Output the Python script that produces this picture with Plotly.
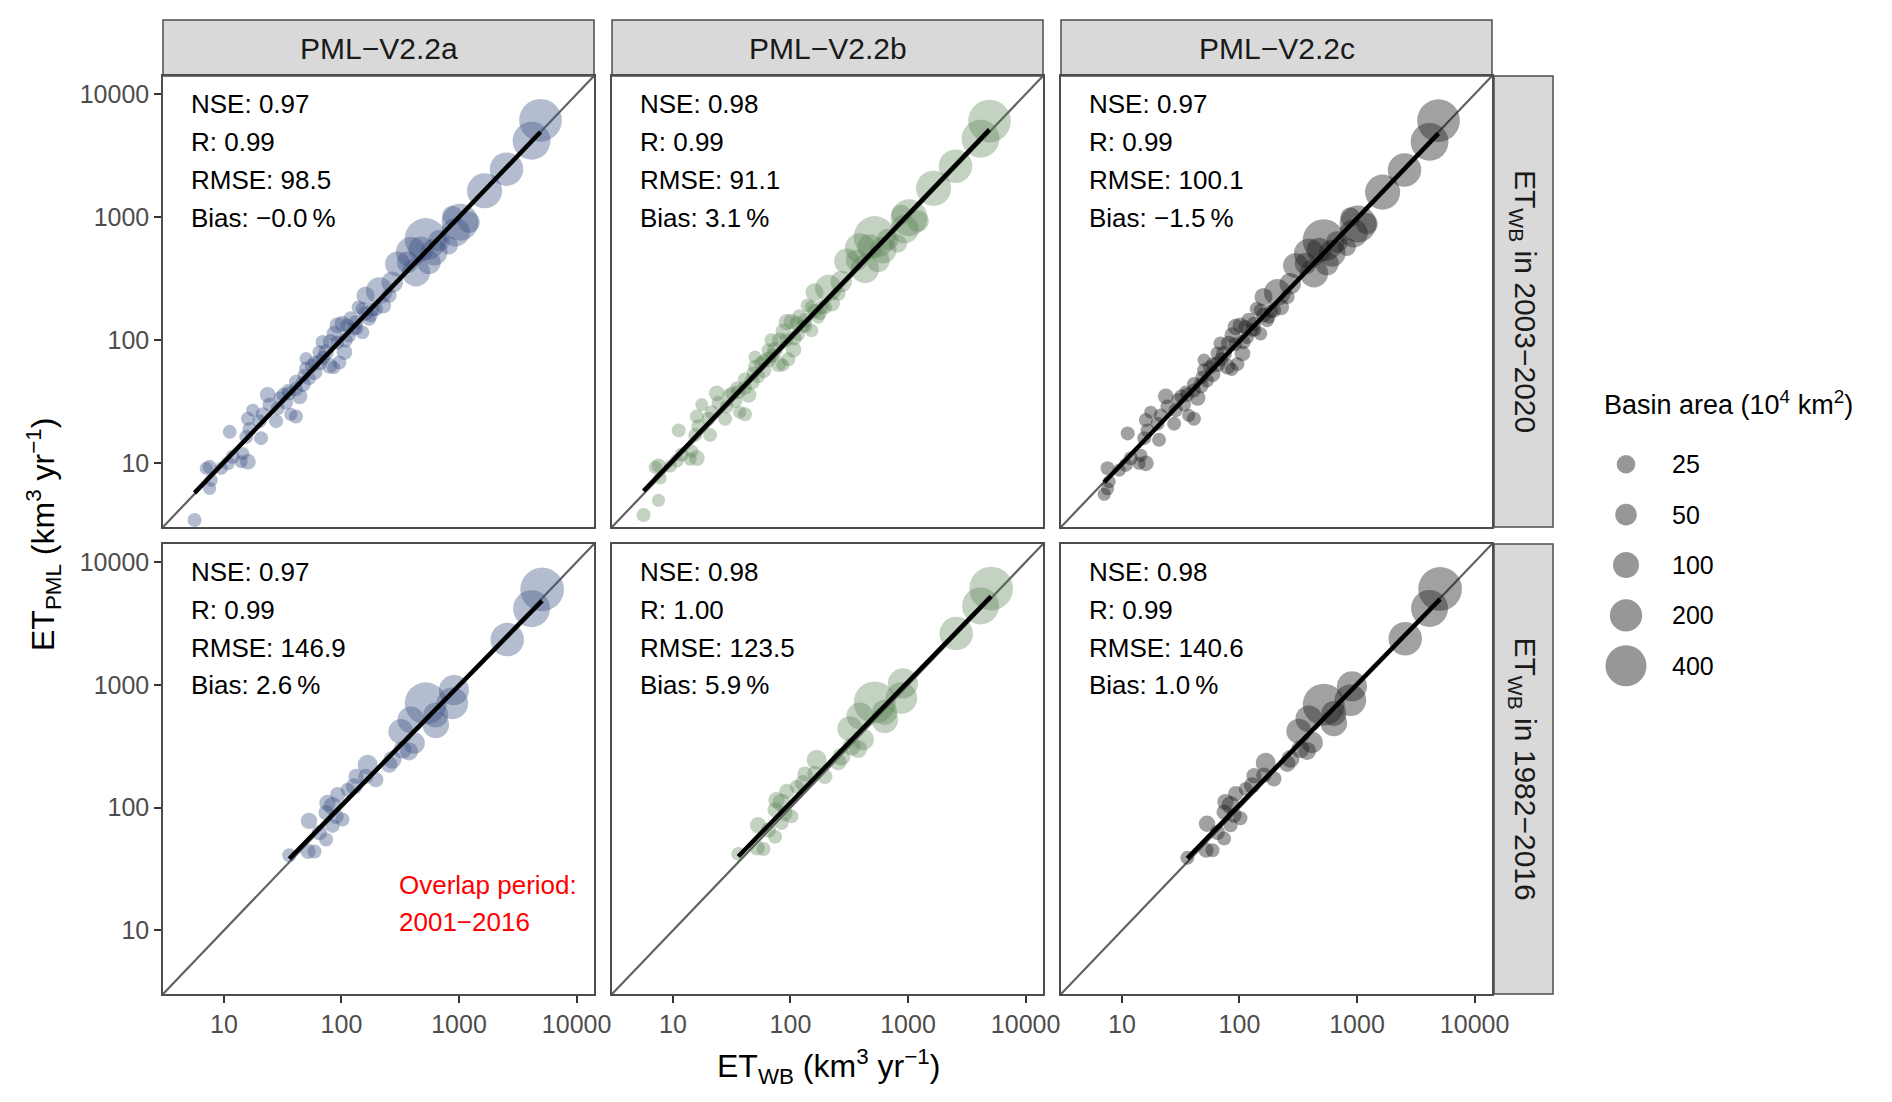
import numpy as np
import plotly.graph_objects as go
from plotly.subplots import make_subplots

# ---- data ----
models = ["PML\u2212V2.2a", "PML\u2212V2.2b", "PML\u2212V2.2c"]
periods = ["ET<sub>WB</sub> in 2003\u22122020", "ET<sub>WB</sub> in 1982\u22122016"]

# 2003-2020: water-balance ET (km3/yr), basin area (10^4 km2), PML ET per model
et_wb_1 = [4930, 4140, 2535, 1650, 1020, 935, 520, 390, 615, 430, 300, 210, 270, 365, 675, 820,
           225, 178, 255, 160, 475, 555, 1215, 875, 93, 102, 87, 81, 116, 128, 106, 74, 65, 79,
           96, 59, 53, 47, 41, 36, 32, 44, 41, 37, 23.6, 24.4, 28.7, 33.8, 27.8, 21.4, 17.6, 20.1,
           16.0, 16.5, 20.7, 11.2, 15.5, 14.5, 16.0, 14.0, 11.9, 10.8, 9.5, 7.55, 7.08, 7.8, 7.55,
           5.63, 151, 172, 196, 133, 151, 65, 59, 50, 69, 50,
           140, 160, 185, 120, 112, 135, 108, 92, 70, 86, 56, 48, 41, 35, 30]
area_1 = [447, 322, 225, 259, 298, 134, 427, 162, 109, 134, 87, 109, 49, 49, 49, 23, 13, 3, 6, 22,
          87, 70, 49, 35, 13, 10, 10, 10, 4, 3, 10, 10, 10, 10, 4, 10, 4, 10, 4, 4, 4, 10, 4, 2,
          10, 4, 4, 4, 4, 4, 2, 4, 4, 4, 4, 4, 4, 2, 10, 2, 4, 4, 2, 4, 2, 2, 2, 4, 3, 3, 6, 6,
          3, 4, 2, 4, 4, 2,
          4, 6, 4, 6, 4, 2, 6, 4, 4, 2, 4, 2, 4, 2, 2]
pml_a_1 = [6140, 4180, 2460, 1640, 910, 755, 665, 520, 520, 357, 417, 253, 296, 430, 645, 590,
           192, 159, 231, 231, 552, 430, 910, 1030, 132, 136, 113, 97, 109, 124, 80, 80, 66, 62,
           66, 55, 49, 44, 40, 37, 36, 35, 24, 25, 36, 30, 28, 31, 22, 25, 27, 22, 23, 19, 16,
           18, 16.4, 12, 10.3, 10.3, 11.3, 10, 9.1, 9.35, 9.1, 7.3, 6.25, 3.46, 180, 149, 180,
           140, 116, 80, 66, 59, 97, 71,
           185, 165, 178, 150, 132, 125, 100, 96, 72, 60, 62, 52, 46, 39, 34]
pml_b_1 = [6050, 4350, 2600, 1720, 990, 800, 690, 560, 540, 380, 440, 265, 300, 445, 660, 610,
           200, 165, 240, 245, 575, 445, 930, 1050, 140, 142, 118, 100, 112, 130, 84, 84, 70, 64,
           70, 57, 51, 46, 41, 38, 37, 36, 25, 26, 37, 31, 29, 32, 23, 26, 30, 23, 24, 20, 17,
           18.5, 17, 12.5, 11, 10.8, 11.8, 10.5, 9.5, 9.6, 9.3, 7.6, 5.0, 3.8, 186, 155, 186,
           145, 120, 83, 68, 61, 100, 73,
           192, 172, 186, 156, 138, 130, 104, 100, 75, 63, 65, 54, 48, 41, 36]
pml_c_1 = [6100, 4100, 2420, 1600, 880, 740, 650, 505, 510, 350, 405, 245, 288, 420, 630, 575,
           186, 155, 225, 225, 540, 420, 885, 1000, 128, 132, 110, 94, 106, 121, 78, 78, 64, 61,
           64, 53, 47, 43, 39, 36, 35, 34, 23, 24.5, 35, 29, 27, 30, 21, 24.5, 26, 21, 22.5, 18.5,
           15.5, 17.5, 16, 11.6, 10, 10, 11, 9.7, 8.8, 9.1, 5.6, 7.1, 6.2, None, 175, 145, 175,
           136, 113, 78, 64, 57, 94, 69,
           180, 160, 172, 146, 128, 121, 97, 93, 70, 58, 60, 50, 44, 38, 33]

# 1982-2016
et_wb_2 = [5090, 4140, 2570, 905, 877, 521, 634, 634, 389, 320, 415, 376, 330, 271, 255, 167,
           196, 161, 133, 128, 113, 93, 84, 76, 74, 90, 102, 53, 65, 74, 52, 59, 36, 84]
area_2 = [476, 300, 225, 162, 190, 427, 87, 109, 109, 87, 49, 22, 22, 22, 13, 35, 8, 8, 8, 13,
          4, 8, 22, 13, 8, 8, 4, 13, 8, 4, 8, 4, 4, 4]
pml_a_2 = [6000, 4180, 2340, 908, 708, 708, 570, 473, 519, 417, 336, 287, 296, 246, 224, 224,
           169, 180, 180, 149, 140, 128, 103, 109, 91, 85, 80, 78, 62.5, 55, 44, 44, 41, 71]
pml_b_2 = [6100, 4400, 2620, 1030, 780, 720, 600, 520, 560, 440, 360, 300, 315, 260, 235, 246,
           180, 190, 188, 158, 148, 136, 110, 115, 96, 90, 85, 72, 66, 58, 47, 46, 42, 75]
pml_c_2 = [6050, 4200, 2380, 975, 750, 690, 585, 490, 530, 420, 340, 290, 300, 250, 228, 232,
           172, 184, 182, 152, 142, 130, 105, 111, 92, 87, 82, 74, 63, 56, 45, 45, 39, 72]

stats = [
    [["NSE: 0.97", "R: 0.99", "RMSE: 98.5", "Bias: \u22120.0\u2009%"],
     ["NSE: 0.98", "R: 0.99", "RMSE: 91.1", "Bias: 3.1\u2009%"],
     ["NSE: 0.97", "R: 0.99", "RMSE: 100.1", "Bias: \u22121.5\u2009%"]],
    [["NSE: 0.97", "R: 0.99", "RMSE: 146.9", "Bias: 2.6\u2009%"],
     ["NSE: 0.98", "R: 1.00", "RMSE: 123.5", "Bias: 5.9\u2009%"],
     ["NSE: 0.98", "R: 0.99", "RMSE: 140.6", "Bias: 1.0\u2009%"]],
]

legend_areas = [25, 50, 100, 200, 400]
tick_vals = [10, 100, 1000, 10000]

# ---- styling ----
W, H = 1892, 1102
FONT = "Liberation Sans, Arial, sans-serif"
colors = ["rgba(60,80,130,0.55)", "rgba(85,125,80,0.5)", "rgba(30,30,30,0.6)"]
LOG_RANGE = [0.482, 4.148]

col_px = [(163, 594), (612, 1043), (1061, 1492)]
row_px = [(76, 527), (544, 994)]


def px_x(a, b):
    return [a / W, b / W]


def px_y(top, bottom):
    return [1 - bottom / H, 1 - top / H]


def diam(area):
    # ggplot-style area scale: diameter linear in sqrt(area)
    return 11 + 1.5 * np.sqrt(np.asarray(area, dtype=float))


fig = make_subplots(rows=2, cols=3)

rows_data = [
    (et_wb_1, area_1, [pml_a_1, pml_b_1, pml_c_1]),
    (et_wb_2, area_2, [pml_a_2, pml_b_2, pml_c_2]),
]

annotations = []
shapes = []

for r, (xw, ar, ys) in enumerate(rows_data):
    for c in range(3):
        yv = ys[c]
        idx = [i for i, v in enumerate(yv) if v is not None]
        xs = np.array([xw[i] for i in idx], dtype=float)
        yy = np.array([yv[i] for i in idx], dtype=float)
        aa = [ar[i] for i in idx]

        # 1:1 line
        lo, hi = 10 ** LOG_RANGE[0], 10 ** LOG_RANGE[1]
        fig.add_trace(go.Scatter(x=[lo, hi], y=[lo, hi], mode="lines",
                                 line=dict(color="#606060", width=2.2),
                                 showlegend=False, hoverinfo="skip"), row=r + 1, col=c + 1)
        # points
        fig.add_trace(go.Scatter(x=xs, y=yy, mode="markers",
                                 marker=dict(size=diam(aa), color=colors[c], line=dict(width=0)),
                                 showlegend=False), row=r + 1, col=c + 1)
        # linear fit in log-log space
        k, b0 = np.polyfit(np.log10(xs), np.log10(yy), 1)
        xe = np.array([xs.min(), xs.max()])
        fig.add_trace(go.Scatter(x=xe, y=10 ** (b0 + k * np.log10(xe)), mode="lines",
                                 line=dict(color="black", width=4.5),
                                 showlegend=False, hoverinfo="skip"), row=r + 1, col=c + 1)

        n = r * 3 + c + 1
        sfx = "" if n == 1 else str(n)
        for j, line in enumerate(stats[r][c]):
            annotations.append(dict(xref=f"x{sfx} domain", yref=f"y{sfx} domain",
                                    x=0.06, y=0.938 - j * 0.084, text=line, showarrow=False,
                                    xanchor="left", yanchor="middle",
                                    font=dict(family=FONT, size=26, color="black")))

        ax = dict(type="log", range=LOG_RANGE, domain=px_x(*col_px[c]),
                  tickvals=tick_vals, ticktext=[str(t) for t in tick_vals],
                  showline=True, mirror=True, linecolor="#4d4d4d", linewidth=1.5,
                  showgrid=False, zeroline=False, automargin=False,
                  tickfont=dict(family=FONT, size=25, color="#4d4d4d"),
                  ticks="outside" if r == 1 else "", ticklen=7, tickwidth=1.5, tickcolor="#333333",
                  showticklabels=(r == 1))
        ay = dict(type="log", range=LOG_RANGE, domain=px_y(*row_px[r]),
                  tickvals=tick_vals, ticktext=[str(t) for t in tick_vals],
                  showline=True, mirror=True, linecolor="#4d4d4d", linewidth=1.5,
                  showgrid=False, zeroline=False, automargin=False,
                  tickfont=dict(family=FONT, size=25, color="#4d4d4d"),
                  ticks="outside" if c == 0 else "", ticklen=7, tickwidth=1.5, tickcolor="#333333",
                  showticklabels=(c == 0))
        fig.layout[f"xaxis{sfx}"].update(ax)
        fig.layout[f"yaxis{sfx}"].update(ay)

# overlap note
annotations.append(dict(xref="x4 domain", yref="y4 domain", x=0.544, y=0.243,
                        text="Overlap period:", showarrow=False, xanchor="left", yanchor="middle",
                        font=dict(family=FONT, size=26, color="red")))
annotations.append(dict(xref="x4 domain", yref="y4 domain", x=0.544, y=0.159,
                        text="2001\u22122016", showarrow=False, xanchor="left", yanchor="middle",
                        font=dict(family=FONT, size=26, color="red")))

# strips
strip_top = px_y(20, 76)
for c, m in enumerate(models):
    x0, x1 = px_x(*col_px[c])
    shapes.append(dict(type="rect", xref="paper", yref="paper", x0=x0, x1=x1,
                       y0=strip_top[0], y1=strip_top[1], fillcolor="#d9d9d9",
                       line=dict(color="#4d4d4d", width=1.5), layer="below"))
    annotations.append(dict(xref="paper", yref="paper", x=(x0 + x1) / 2,
                            y=sum(strip_top) / 2, text=m, showarrow=False,
                            xanchor="center", yanchor="middle",
                            font=dict(family=FONT, size=30, color="#1a1a1a")))
sx = px_x(1494, 1553)
for r, p in enumerate(periods):
    y0, y1 = px_y(*row_px[r])
    shapes.append(dict(type="rect", xref="paper", yref="paper", x0=sx[0], x1=sx[1],
                       y0=y0, y1=y1, fillcolor="#d9d9d9",
                       line=dict(color="#4d4d4d", width=1.5), layer="below"))
    annotations.append(dict(xref="paper", yref="paper", x=sum(sx) / 2, y=(y0 + y1) / 2,
                            text=p, textangle=90, showarrow=False,
                            xanchor="center", yanchor="middle",
                            font=dict(family=FONT, size=30, color="#1a1a1a")))

# axis titles
annotations.append(dict(xref="paper", yref="paper", x=828 / W, y=1 - 1066 / H,
                        text="ET<sub>WB</sub> (km<sup>3</sup> yr<sup>\u22121</sup>)",
                        showarrow=False, xanchor="center", yanchor="middle",
                        font=dict(family=FONT, size=32, color="black")))
annotations.append(dict(xref="paper", yref="paper", x=44 / W, y=1 - 535 / H,
                        text="ET<sub>PML</sub> (km<sup>3</sup> yr<sup>\u22121</sup>)",
                        textangle=-90, showarrow=False, xanchor="center", yanchor="middle",
                        font=dict(family=FONT, size=32, color="black")))

# size legend drawn on its own hidden axes
fig.add_trace(go.Scatter(x=[0] * len(legend_areas), y=list(range(len(legend_areas))),
                         mode="markers", xaxis="x7", yaxis="y7", showlegend=False,
                         marker=dict(size=diam(legend_areas), color="#6b6b6b", line=dict(width=0))))
fig.layout["xaxis7"] = dict(domain=px_x(1596, 1656), range=[-1, 1], visible=False,
                            fixedrange=True, anchor="y7")
fig.layout["yaxis7"] = dict(domain=px_y(439, 691), range=[len(legend_areas) - 0.5, -0.5],
                            visible=False, fixedrange=True, anchor="x7")
for i, a in enumerate(legend_areas):
    annotations.append(dict(xref="paper", yref="y7", x=1670 / W, y=i, text=str(a),
                            showarrow=False, xanchor="left", yanchor="middle",
                            font=dict(family=FONT, size=25, color="black")))
annotations.append(dict(xref="paper", yref="paper", x=1602 / W, y=1 - 403 / H,
                        text="Basin area (10<sup>4</sup> km<sup>2</sup>)", showarrow=False,
                        xanchor="left", yanchor="middle",
                        font=dict(family=FONT, size=27, color="black")))

fig.update_layout(width=W, height=H, autosize=False,
                  margin=dict(l=0, r=0, t=0, b=0),
                  paper_bgcolor="white", plot_bgcolor="white",
                  showlegend=False, annotations=annotations, shapes=shapes,
                  font=dict(family=FONT))

fig.write_html("out.html", config={"displayModeBar": False},
               post_script="document.body.style.margin='0px';")
